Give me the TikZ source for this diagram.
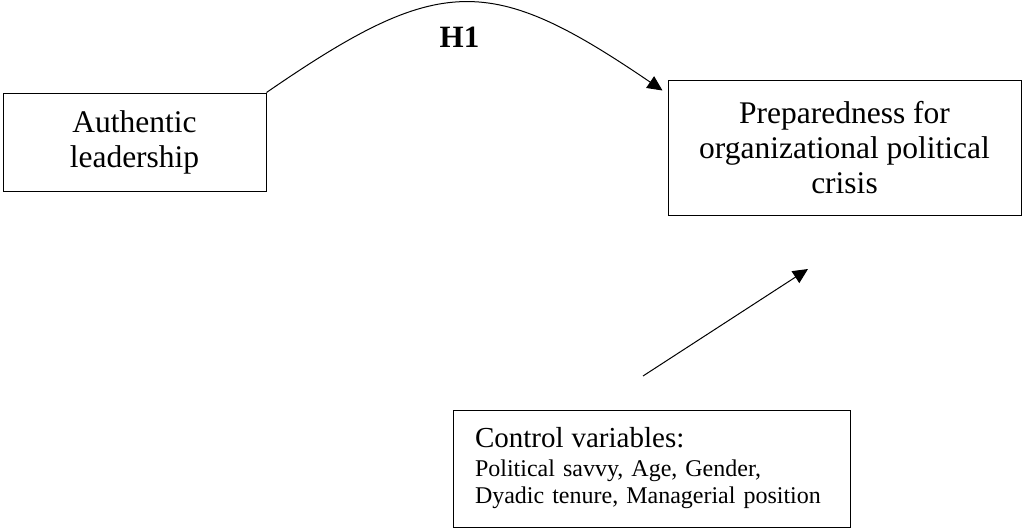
\documentclass[tikz,border=0pt]{standalone}
\usepackage{fontspec}
\setmainfont{Liberation Serif}
\usetikzlibrary{arrows.meta}
\begin{document}
\begin{tikzpicture}[x=1pt,y=-1pt,
  box/.style={draw=black, line width=1pt, inner sep=0pt},
  conn/.style={line width=1pt, -{Triangle[length=15pt,width=14pt]}},
  big/.style={font=\fontsize{31.5}{35}\selectfont, align=center},
  small/.style={font=\fontsize{24}{27}\selectfont, align=left}]
\useasboundingbox (0,0) rectangle (1031,528);

% constructs
\node[box,big,minimum width=263pt,minimum height=98pt] (auth) at (134.5,142)
  {Authentic\\leadership};
\node[box,big,minimum width=353pt,minimum height=135pt] (prep) at (844.5,147.5)
  {Preparedness for\\organizational political\\crisis};
\node[box,small,minimum width=397pt,minimum height=117pt,
      text width=353pt,inner xsep=22pt] (ctrl) at (651.5,468.5)
  {{\fontsize{29}{33}\selectfont Control variables:}\\[2pt]
   Political savvy, Age, Gender,\\
   Dyadic tenure, Managerial position};

% hypothesis path
\coordinate (h1end) at ([shift={(-5,11)}]prep.north west);
\draw[conn] (auth.north east) .. controls (440,-27) and (490,-27) .. (h1end);
\node[font=\bfseries\fontsize{31}{35}\selectfont] (h1) at (459.5,37.5) {H1};

% control variables path
\coordinate (cfrom) at (643,376);
\coordinate (cto) at (808,269);
\draw[conn] (cfrom) -- (cto);
\end{tikzpicture}
\end{document}
